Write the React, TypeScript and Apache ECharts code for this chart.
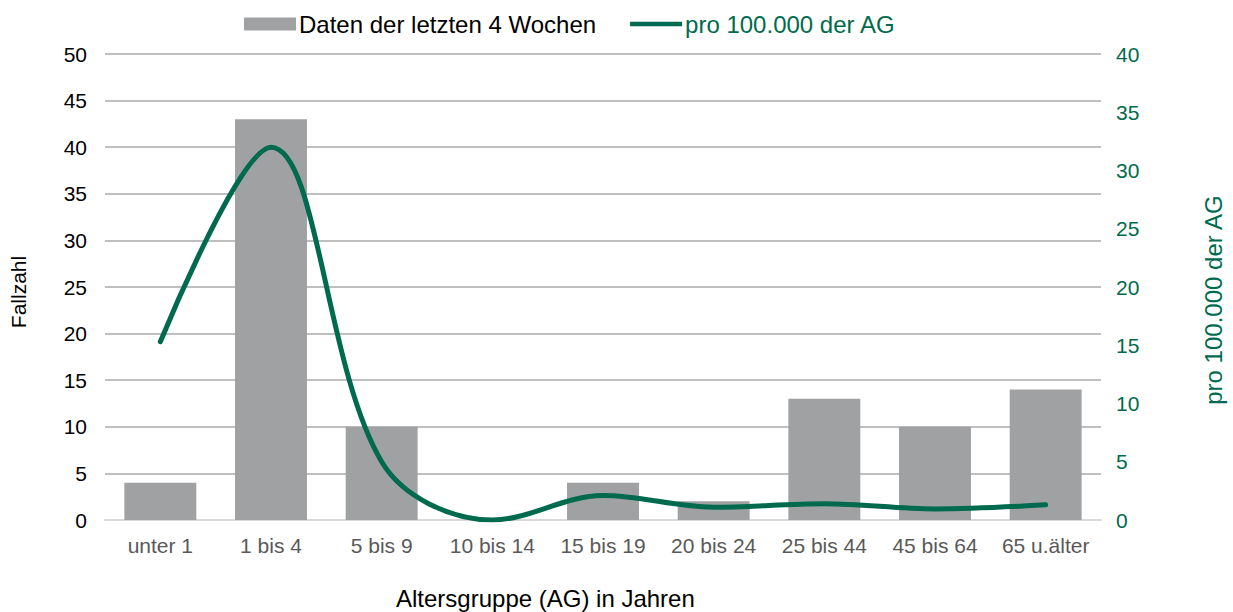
import React, { useEffect, useRef } from "react";
import * as echarts from "echarts";

const categories = ["unter 1", "1 bis 4", "5 bis 9", "10 bis 14", "15 bis 19", "20 bis 24", "25 bis 44", "45 bis 64", "65 u.älter"];
const fallzahl = [4, 43, 10, 0, 4, 2, 13, 10, 14];
const pro100k = [15.3, 32.0, 5.0, 0, 2.1, 1.1, 1.4, 0.95, 1.3];

const GREEN = "#006a4e";
const FONT = "Liberation Sans, Arial, sans-serif";

export default function App() {
  const ref = useRef<HTMLDivElement>(null);
  useEffect(() => {
    const chart = echarts.init(ref.current!, undefined, { renderer: "svg" });
    chart.setOption({
      animation: false,
      textStyle: { fontFamily: FONT },
      legend: {
        top: 7,
        left: 239,
        itemGap: 34,
        itemWidth: 52,
        itemHeight: 13,
        textStyle: { fontSize: 24, fontFamily: FONT, color: "#000", padding: [0, 0, 0, -2] },
        data: [
          { name: "Daten der letzten 4 Wochen", icon: "rect" },
          {
            name: "pro 100.000 der AG",
            icon: "path://M0,0 M56,13 M0,4 L56,4 L56,9 L0,9 Z",
            itemStyle: { color: GREEN },
            textStyle: { color: GREEN },
          },
        ],
      },
      grid: { left: 105, right: 128, top: 54, bottom: 92, containLabel: false },
      xAxis: {
        type: "category",
        data: categories,
        axisLine: { lineStyle: { color: "#d9d9d9", width: 2 } },
        axisTick: { show: false },
        axisLabel: { color: "#595959", fontSize: 21, margin: 15, fontFamily: FONT, interval: 0 },
      },
      yAxis: [
        {
          type: "value",
          min: 0,
          max: 50,
          interval: 5,
          name: "Fallzahl",
          nameLocation: "middle",
          nameGap: 76,
          nameTextStyle: { color: "#000", fontSize: 21, fontFamily: FONT, padding: [0, 10, 0, 0] },
          axisLabel: { color: "#000", fontSize: 21, margin: 18, fontFamily: FONT },
          splitLine: { lineStyle: { color: "#bfbfbf", width: 2 } },
          axisLine: { show: false },
          axisTick: { show: false },
        },
        {
          type: "value",
          min: 0,
          max: 40,
          interval: 5,
          name: "pro 100.000 der AG",
          nameLocation: "middle",
          nameGap: 100,
          nameRotate: 90,
          nameTextStyle: { color: GREEN, fontSize: 24, fontFamily: FONT, padding: [0, 26, 0, 0] },
          axisLabel: { color: GREEN, fontSize: 21, margin: 15, fontFamily: FONT },
          splitLine: { show: false },
          axisLine: { show: false },
          axisTick: { show: false },
        },
      ],
      graphic: [
        {
          type: "text",
          left: 396,
          top: 586,
          style: { text: "Altersgruppe (AG) in Jahren", fontSize: 24, fontFamily: FONT, fill: "#000" },
        },
      ],
      series: [
        {
          name: "Daten der letzten 4 Wochen",
          type: "bar",
          data: fallzahl,
          barWidth: "65%",
          itemStyle: { color: "#a0a1a3" },
          yAxisIndex: 0,
        },
        {
          name: "pro 100.000 der AG",
          type: "line",
          data: pro100k,
          yAxisIndex: 1,
          smooth: 0.35,
          showSymbol: false,
          symbol: "none",
          lineStyle: { color: GREEN, width: 5, cap: "round" },
          itemStyle: { color: GREEN },
        },
      ],
    });
    return () => chart.dispose();
  }, []);
  return <div ref={ref} style={{ width: 1233, height: 612, position: "absolute", left: 0, top: 0 }} />;
}
